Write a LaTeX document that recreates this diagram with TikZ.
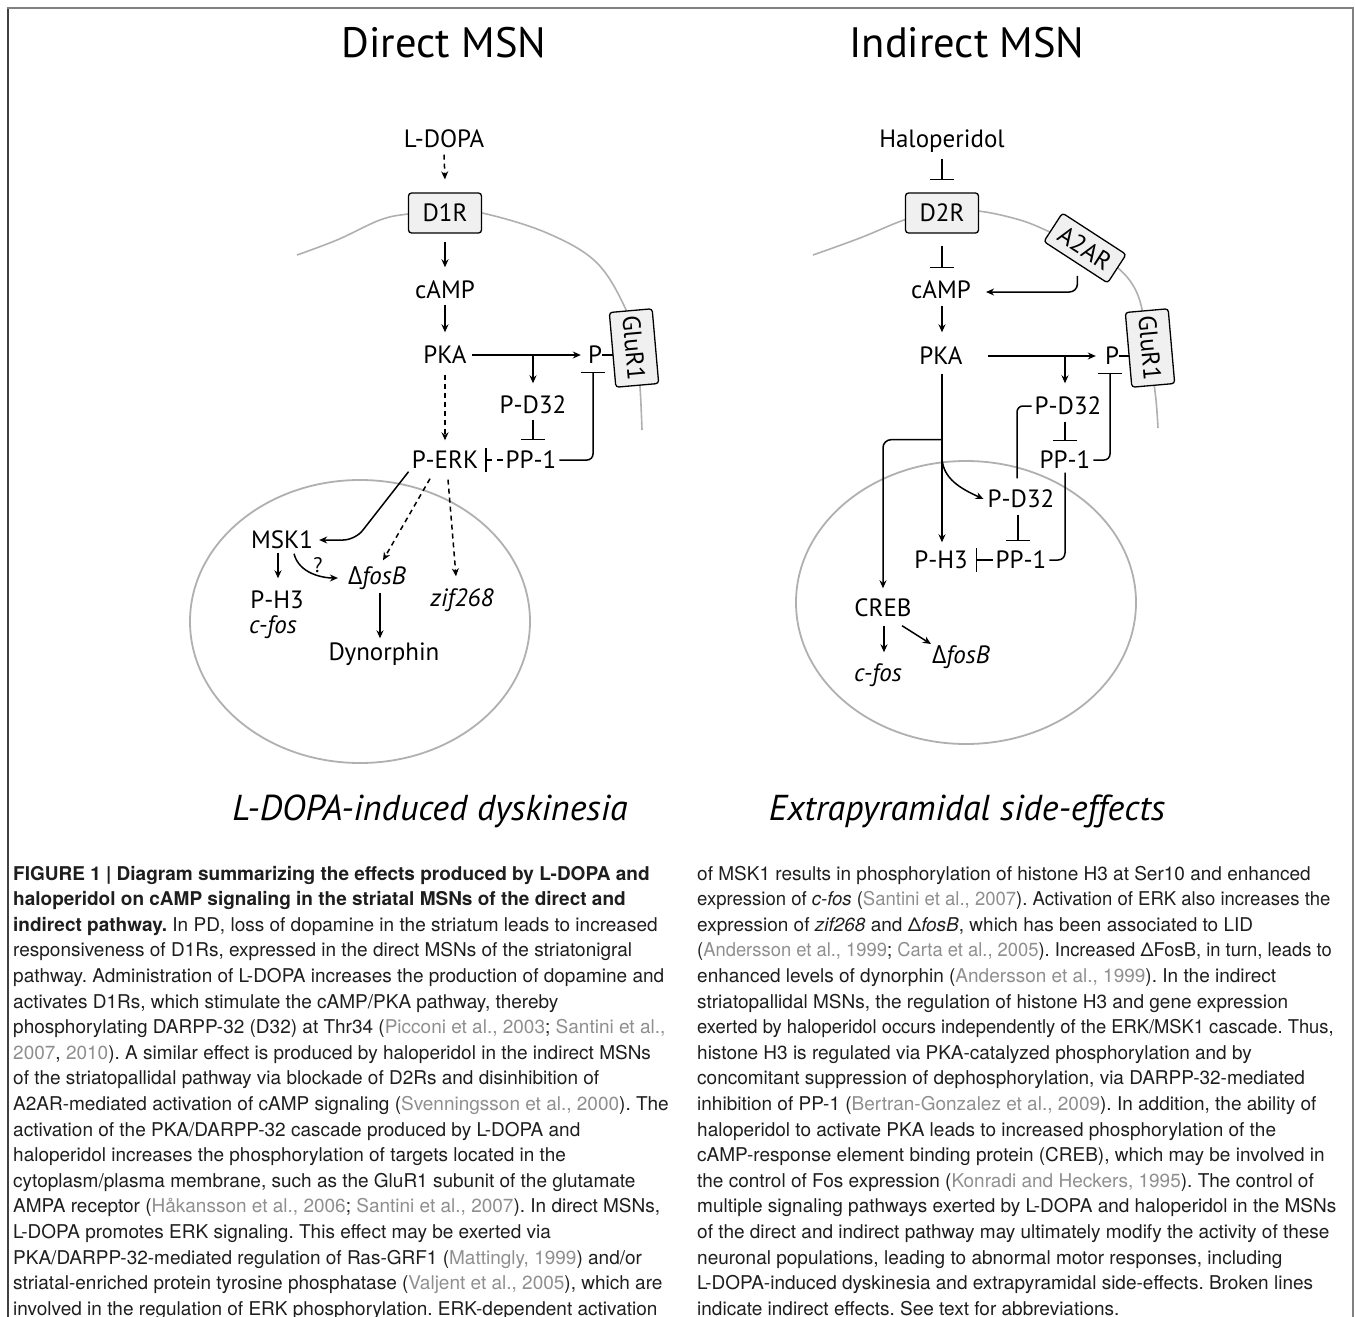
\documentclass[tikz,border=0pt]{standalone}
\usepackage{graphicx}
\usepackage{fontspec}
\setmainfont{TeX Gyre Heros}
\newfontfamily\capfont{TeX Gyre Heros}
\newfontfamily\lblfont{PT Sans}
\newfontfamily\grkfont{Open Sans}
\usetikzlibrary{arrows.meta,calc,backgrounds}
\definecolor{refgray}{HTML}{8F8F8F}
\definecolor{memgray}{HTML}{B0B0B0}
\definecolor{boxfill}{HTML}{F0F0F0}
\definecolor{captxt}{HTML}{1E1E1E}
\newcommand{\refc}[1]{\textcolor{refgray}{#1}}
\newcommand{\dfosb}{{\grkfont Δ}\textit{fosB}}
\frenchspacing
\tikzset{
 lbl/.style={font={\lblfont\fontsize{25}{29}\selectfont}, inner xsep=3pt, inner ysep=0pt, text height=17pt, text depth=0pt},
 rbox/.style={draw, fill=boxfill, rounded corners=3pt, line width=1.3pt, minimum width=73pt, minimum height=40pt, inner sep=0pt, font={\lblfont\fontsize{25}{29}\selectfont}},
 con/.style={line width=1.5pt},
 arr/.style={con, -{Stealth[length=8pt,width=7pt]}},
 darr/.style={arr, dash pattern=on 5pt off 4pt},
 inh/.style={con, -{Bar[width=24pt]}},
 membrane/.style={memgray, line width=1.6pt},
 nucleus/.style={draw=memgray, line width=1.8pt},
 capl/.style={anchor=base west, inner sep=0pt, text=captxt, font={\capfont\fontsize{19}{25}\selectfont\frenchspacing}},
 ttl/.style={anchor=base, inner sep=0pt, font={\lblfont\fontsize{42.5}{50}\selectfont}},
 sub/.style={anchor=base, inner sep=0pt, font={\lblfont\itshape\fontsize{36}{42}\selectfont}},
}
\begin{document}
\begin{tikzpicture}[x=1pt,y=-1pt]
\useasboundingbox (0,0) rectangle (1355,1317);
% frame
\draw[line width=1.6pt, black!75] (8,8) -- (8,1317);
\draw[line width=2pt, black!50] (7,8) -- (1353,8) -- (1353,1317);

% titles
\node[ttl] (tl) at (444,57) {Direct MSN};
\node[ttl] (tr) at (967,57) {Indirect MSN};
\node[sub] (bl) at (430,820) {L-DOPA-induced dyskinesia};
\node[sub] (br) at (967,820) {Extrapyramidal side-effects};

% ---------- left panel ----------
\node[lbl] (ldopa) at (444,139) {L-DOPA};
\node[rbox] (d1r) at (445,213) {D1R};
\node[lbl] (campL) at (445,290) {cAMP};
\node[lbl] (pkaL) at (445,355) {PKA};
\node[lbl] (pL) at (595,355) {P};
\node[lbl] (pd32L) at (533,405) {P-D32};
\node[lbl] (pp1L) at (531,460) {PP-1};
\node[lbl] (perk) at (445,460) {P-ERK};
\node[rbox, minimum width=75pt, minimum height=43pt, rotate=-85] (glurL) at (634,348) {GluR1};
\node[lbl] (msk1) at (282,540) {MSK1};
\node[lbl] (ph3L) at (277,600) {P-H3};
\node[lbl] (cfosL) at (273,625) {\textit{c-fos}};
\node[lbl] (fosbL) at (377,576) {\dfosb};
\node[lbl] (zif) at (462,598) {\textit{zif268}};
\node[lbl] (dyn) at (384,652) {Dynorphin};
\node[lbl, font={\lblfont\fontsize{21}{25}\selectfont}, text height=15pt] (q) at (318,565) {?};

\draw[darr] ($(ldopa.south)+(0,7)$) -- ($(d1r.north)+(0,-13)$);
\draw[arr] ($(d1r.south)+(0,8)$) -- ($(campL.north)+(0,-14)$);
\draw[arr] ($(campL.south)+(0,6)$) -- ($(pkaL.north)+(0,-14)$);
\draw[arr] ($(pkaL.east)+(2,0)$) -- ($(pL.west)+(-4,0)$);
\coordinate (brL) at (pkaL -| pd32L);
\draw[arr] (brL) -- ($(pd32L.north)+(0,-13)$);
\draw[inh] ($(pd32L.south)+(0,6)$) -- ($(pd32L.south |- pp1L.north)+(0,-11)$);
\draw[darr] ($(pkaL.south)+(0,11)$) -- ($(perk.north)+(0,-11)$);
\draw[inh, dash pattern=on 6pt off 5pt] (pp1L.west) -- ($(perk.east)+(4,0)$);
\draw[inh, rounded corners=6pt] (pp1L.east) -| ($(pL.south)+(-2,8)$);
\draw[arr, rounded corners=12pt] ($(perk.south west)+(0,3)$) -- ($(msk1.east)+(39,0)$) -- ($(msk1.east)+(3,0)$);
\draw[darr] ($(perk.south)+(-15,10)$) -- ($(fosbL.north)+(6,-7)$);
\draw[darr] ($(perk.south)+(3,11)$) -- ($(zif.north)+(-6,-13)$);
\draw[arr] ($(ph3L.north |- msk1.south)+(1,4)$) -- ($(ph3L.north)+(1,-13)$);
\draw[arr] ($(msk1.south)+(12,5)$) .. controls +(5,20) and +(-15,0) .. ($(fosbL.west)+(-7,2)$);
\draw[arr] ($(fosbL.south)+(3,8)$) -- ($(dyn.north)+(-4,-5)$);

% ---------- right panel ----------
\node[lbl] (halo) at (942,139) {Haloperidol};
\node[rbox] (d2r) at (942,213) {D2R};
\node[lbl] (campR) at (941,290) {cAMP};
\node[lbl] (pkaR) at (941,356) {PKA};
\node[lbl] (pR) at (1112,356) {P};
\node[lbl] (pd32R) at (1068,406) {P-D32};
\node[lbl] (pp1R) at (1065,460) {PP-1};
\node[rbox, minimum width=75pt, minimum height=43pt, rotate=-85] (glurR) at (1150,348) {GluR1};
\node[rbox, minimum width=76pt, minimum height=34pt, rotate=-33] (a2ar) at (1085,248) {A2AR};
\node[lbl] (pd32Rb) at (1021,499) {P-D32};
\node[lbl] (ph3R) at (941,560) {P-H3};
\node[lbl] (pp1Rb) at (1021,560) {PP-1};
\node[lbl] (creb) at (883,608) {CREB};
\node[lbl] (cfosR) at (878,673) {\textit{c-fos}};
\node[lbl] (fosbR) at (961,655) {\dfosb};

\draw[inh] ($(halo.south)+(0,11)$) -- ($(d2r.north)+(0,-12)$);
\draw[inh] ($(d2r.south)+(0,12)$) -- ($(d2r.south |- campR.north)+(0,-13)$);
\draw[arr, rounded corners=8pt] ($(a2ar.south)+(2,13)$) |- ($(campR.east)+(12,2)$);
\draw[arr] ($(campR.south)+(1,7)$) -- ($(pkaR.north)+(1,-15)$);
\draw[arr] ($(pkaR.east)+(22,0)$) -- ($(pR.west)+(-6,0)$);
\coordinate (brR) at (pkaR -| pp1R);
\draw[arr] (brR) -- ($(brR |- pd32R.north)+(0,-14)$);
\draw[inh] ($(pp1R.north |- pd32R.south)+(0,7)$) -- ($(pp1R.north)+(0,-10)$);
\draw[inh, rounded corners=6pt] (pp1R.east) -| ($(pR.south)+(-2,8)$);
\draw[con, rounded corners=6pt] (pd32R.west) -| ($(pd32Rb.north)+(-4,-12)$);
\draw[con, rounded corners=7pt] ($(pp1R.south)+(0,4)$) |- (pp1Rb.east);
\draw[arr] ($(pkaR.south)+(1,9)$) -- ($(ph3R.north)+(1,-9)$);
\draw[arr, rounded corners=8pt] ($(pkaR.south)+(1,75)$) -| ($(creb.north)+(0,-11)$);
\draw[arr] ($(pkaR.south)+(1,92)$) .. controls +(0,22) and +(-22,-10) .. ($(pd32Rb.west)+(-1,0)$);
\draw[inh] ($(pd32Rb.south)+(-3,7)$) -- ($(pd32Rb.south |- pp1Rb.north)+(-3,-10)$);
\draw[inh] (pp1Rb.west) -- ($(ph3R.east)+(5,0)$);
\draw[arr] ($(creb.south)+(1,9)$) -- ($(cfosR.north)+(6,-12)$);
\draw[arr] ($(creb.south)+(19,9)$) -- ($(fosbR.west)+(2,-11)$);

\begin{scope}[on background layer]
\fill[white] (0,0) rectangle (1355,1317);
\draw[membrane] plot[smooth, tension=0.6] coordinates {(297,255) (337,240) (380,220) (408,214) (445,211) (482,213) (547,233) (597,263) (627,312) (636,348) (640,387) (642,430)};
\draw[membrane] plot[smooth, tension=0.6] coordinates {(813,255) (860,238) (907,219) (942,212) (978,211) (1020,220) (1050,232) (1085,248) (1118,268) (1137,293) (1146,330) (1152,370) (1156,400) (1158,428)};
\draw[nucleus] (360,621.5) ellipse [x radius=170, y radius=141.5];
\draw[nucleus] (966,602.5) ellipse [x radius=170, y radius=141.5];
\draw[con] ($(pL.east)+(-3,0)$) -- (pL.east -| glurL.center);
\draw[con] ($(pR.east)+(-3,0)$) -- (pR.east -| glurR.center);
\end{scope}

% ---------- caption ----------
\node[capl] (c1) at (13,880) {\textbf{FIGURE 1 | Diagram summarizing the effects produced by L-DOPA and}};
\node[capl] (c2) at (13,905.6) {\textbf{haloperidol on cAMP signaling in the striatal MSNs of the direct and}};
\node[capl] (c3) at (13,931.2) {\textbf{indirect pathway.} In PD, loss of dopamine in the striatum leads to increased};
\node[capl] (c4) at (13,956.8) {responsiveness of D1Rs, expressed in the direct MSNs of the striatonigral};
\node[capl] (c5) at (13,982.4) {pathway. Administration of L-DOPA increases the production of dopamine and};
\node[capl] (c6) at (13,1008) {activates D1Rs, which stimulate the cAMP/PKA pathway, thereby};
\node[capl] (c7) at (13,1033.6) {phosphorylating DARPP-32 (D32) at Thr34 (\refc{Picconi et al., 2003}; \refc{Santini et al.,}};
\node[capl] (c8) at (13,1059.2) {\refc{2007}, \refc{2010}). A similar effect is produced by haloperidol in the indirect MSNs};
\node[capl] (c9) at (13,1084.8) {of the striatopallidal pathway via blockade of D2Rs and disinhibition of};
\node[capl] (c10) at (13,1110.4) {A2AR-mediated activation of cAMP signaling (\refc{Svenningsson et al., 2000}). The};
\node[capl] (c11) at (13,1136) {activation of the PKA/DARPP-32 cascade produced by L-DOPA and};
\node[capl] (c12) at (13,1161.6) {haloperidol increases the phosphorylation of targets located in the};
\node[capl] (c13) at (13,1187.2) {cytoplasm/plasma membrane, such as the GluR1 subunit of the glutamate};
\node[capl] (c14) at (13,1212.8) {AMPA receptor (\refc{Håkansson et al., 2006}; \refc{Santini et al., 2007}). In direct MSNs,};
\node[capl] (c15) at (13,1238.4) {L-DOPA promotes ERK signaling. This effect may be exerted via};
\node[capl] (c16) at (13,1264) {PKA/DARPP-32-mediated regulation of Ras-GRF1 (\refc{Mattingly, 1999}) and/or};
\node[capl] (c17) at (13,1289.6) {striatal-enriched protein tyrosine phosphatase (\refc{Valjent et al., 2005}), which are};
\node[capl] (c18) at (13,1315.2) {involved in the regulation of ERK phosphorylation. ERK-dependent activation};

\node[capl] (d1) at (697,880) {of MSK1 results in phosphorylation of histone H3 at Ser10 and enhanced};
\node[capl] (d2) at (697,905.6) {\scalebox{0.975}[1]{expression of \textit{c-fos} (\refc{Santini et al., 2007}). Activation of ERK also increases the}};
\node[capl] (d3) at (697,931.2) {expression of \textit{zif268} and Δ\textit{fosB}, which has been associated to LID};
\node[capl] (d4) at (697,956.8) {\scalebox{0.967}[1]{(\refc{Andersson et al., 1999}; \refc{Carta et al., 2005}). Increased ΔFosB, in turn, leads to}};
\node[capl] (d5) at (697,982.4) {enhanced levels of dynorphin (\refc{Andersson et al., 1999}). In the indirect};
\node[capl] (d6) at (697,1008) {striatopallidal MSNs, the regulation of histone H3 and gene expression};
\node[capl] (d7) at (697,1033.6) {\scalebox{0.966}[1]{exerted by haloperidol occurs independently of the ERK/MSK1 cascade. Thus,}};
\node[capl] (d8) at (697,1059.2) {histone H3 is regulated via PKA-catalyzed phosphorylation and by};
\node[capl] (d9) at (697,1084.8) {concomitant suppression of dephosphorylation, via DARPP-32-mediated};
\node[capl] (d10) at (697,1110.4) {inhibition of PP-1 (\refc{Bertran-Gonzalez et al., 2009}). In addition, the ability of};
\node[capl] (d11) at (697,1136) {haloperidol to activate PKA leads to increased phosphorylation of the};
\node[capl] (d12) at (697,1161.6) {cAMP-response element binding protein (CREB), which may be involved in};
\node[capl] (d13) at (697,1187.2) {the control of Fos expression (\refc{Konradi and Heckers, 1995}). The control of};
\node[capl] (d14) at (697,1212.8) {multiple signaling pathways exerted by L-DOPA and haloperidol in the MSNs};
\node[capl] (d15) at (697,1238.4) {of the direct and indirect pathway may ultimately modify the activity of these};
\node[capl] (d16) at (697,1264) {neuronal populations, leading to abnormal motor responses, including};
\node[capl] (d17) at (697,1289.6) {L-DOPA-induced dyskinesia and extrapyramidal side-effects. Broken lines};
\node[capl] (d18) at (697,1315.2) {indicate indirect effects. See text for abbreviations.};
\end{tikzpicture}
\end{document}
